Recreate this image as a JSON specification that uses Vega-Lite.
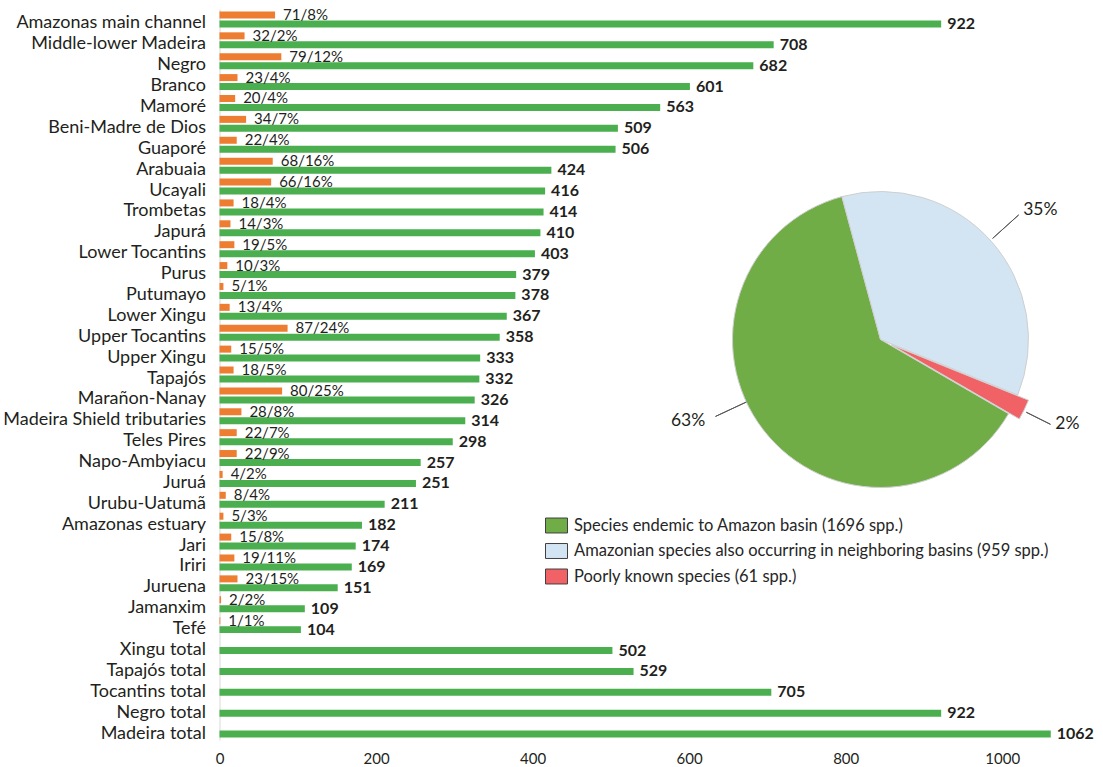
{
  "$schema": "https://vega.github.io/schema/vega-lite/v6.json",
  "width": 861,
  "height": 731,
  "autosize": "none",
  "padding": {"left": 219.5, "top": 9, "right": 22, "bottom": 27},
  "background": "white",
  "config": {"view": {"stroke": null}, "font": "Lato"},
  "resolve": {"scale": {"x": "independent", "y": "independent", "color": "independent"}},
  "layer": [
    {
      "data": {"values": [
        {"basin": "Amazonas main channel", "group": "Endemic", "value": 71, "label": "71/8%"},
        {"basin": "Amazonas main channel", "group": "Total", "value": 922, "label": "922"},
        {"basin": "Middle-lower Madeira", "group": "Endemic", "value": 32, "label": "32/2%"},
        {"basin": "Middle-lower Madeira", "group": "Total", "value": 708, "label": "708"},
        {"basin": "Negro", "group": "Endemic", "value": 79, "label": "79/12%"},
        {"basin": "Negro", "group": "Total", "value": 682, "label": "682"},
        {"basin": "Branco", "group": "Endemic", "value": 23, "label": "23/4%"},
        {"basin": "Branco", "group": "Total", "value": 601, "label": "601"},
        {"basin": "Mamoré", "group": "Endemic", "value": 20, "label": "20/4%"},
        {"basin": "Mamoré", "group": "Total", "value": 563, "label": "563"},
        {"basin": "Beni-Madre de Dios", "group": "Endemic", "value": 34, "label": "34/7%"},
        {"basin": "Beni-Madre de Dios", "group": "Total", "value": 509, "label": "509"},
        {"basin": "Guaporé", "group": "Endemic", "value": 22, "label": "22/4%"},
        {"basin": "Guaporé", "group": "Total", "value": 506, "label": "506"},
        {"basin": "Arabuaia", "group": "Endemic", "value": 68, "label": "68/16%"},
        {"basin": "Arabuaia", "group": "Total", "value": 424, "label": "424"},
        {"basin": "Ucayali", "group": "Endemic", "value": 66, "label": "66/16%"},
        {"basin": "Ucayali", "group": "Total", "value": 416, "label": "416"},
        {"basin": "Trombetas", "group": "Endemic", "value": 18, "label": "18/4%"},
        {"basin": "Trombetas", "group": "Total", "value": 414, "label": "414"},
        {"basin": "Japurá", "group": "Endemic", "value": 14, "label": "14/3%"},
        {"basin": "Japurá", "group": "Total", "value": 410, "label": "410"},
        {"basin": "Lower Tocantins", "group": "Endemic", "value": 19, "label": "19/5%"},
        {"basin": "Lower Tocantins", "group": "Total", "value": 403, "label": "403"},
        {"basin": "Purus", "group": "Endemic", "value": 10, "label": "10/3%"},
        {"basin": "Purus", "group": "Total", "value": 379, "label": "379"},
        {"basin": "Putumayo", "group": "Endemic", "value": 5, "label": "5/1%"},
        {"basin": "Putumayo", "group": "Total", "value": 378, "label": "378"},
        {"basin": "Lower Xingu", "group": "Endemic", "value": 13, "label": "13/4%"},
        {"basin": "Lower Xingu", "group": "Total", "value": 367, "label": "367"},
        {"basin": "Upper Tocantins", "group": "Endemic", "value": 87, "label": "87/24%"},
        {"basin": "Upper Tocantins", "group": "Total", "value": 358, "label": "358"},
        {"basin": "Upper Xingu", "group": "Endemic", "value": 15, "label": "15/5%"},
        {"basin": "Upper Xingu", "group": "Total", "value": 333, "label": "333"},
        {"basin": "Tapajós", "group": "Endemic", "value": 18, "label": "18/5%"},
        {"basin": "Tapajós", "group": "Total", "value": 332, "label": "332"},
        {"basin": "Marañon-Nanay", "group": "Endemic", "value": 80, "label": "80/25%"},
        {"basin": "Marañon-Nanay", "group": "Total", "value": 326, "label": "326"},
        {"basin": "Madeira Shield tributaries", "group": "Endemic", "value": 28, "label": "28/8%"},
        {"basin": "Madeira Shield tributaries", "group": "Total", "value": 314, "label": "314"},
        {"basin": "Teles Pires", "group": "Endemic", "value": 22, "label": "22/7%"},
        {"basin": "Teles Pires", "group": "Total", "value": 298, "label": "298"},
        {"basin": "Napo-Ambyiacu", "group": "Endemic", "value": 22, "label": "22/9%"},
        {"basin": "Napo-Ambyiacu", "group": "Total", "value": 257, "label": "257"},
        {"basin": "Juruá", "group": "Endemic", "value": 4, "label": "4/2%"},
        {"basin": "Juruá", "group": "Total", "value": 251, "label": "251"},
        {"basin": "Urubu-Uatumã", "group": "Endemic", "value": 8, "label": "8/4%"},
        {"basin": "Urubu-Uatumã", "group": "Total", "value": 211, "label": "211"},
        {"basin": "Amazonas estuary", "group": "Endemic", "value": 5, "label": "5/3%"},
        {"basin": "Amazonas estuary", "group": "Total", "value": 182, "label": "182"},
        {"basin": "Jari", "group": "Endemic", "value": 15, "label": "15/8%"},
        {"basin": "Jari", "group": "Total", "value": 174, "label": "174"},
        {"basin": "Iriri", "group": "Endemic", "value": 19, "label": "19/11%"},
        {"basin": "Iriri", "group": "Total", "value": 169, "label": "169"},
        {"basin": "Juruena", "group": "Endemic", "value": 23, "label": "23/15%"},
        {"basin": "Juruena", "group": "Total", "value": 151, "label": "151"},
        {"basin": "Jamanxim", "group": "Endemic", "value": 2, "label": "2/2%"},
        {"basin": "Jamanxim", "group": "Total", "value": 109, "label": "109"},
        {"basin": "Tefé", "group": "Endemic", "value": 1, "label": "1/1%"},
        {"basin": "Tefé", "group": "Total", "value": 104, "label": "104"},
        {"basin": "Xingu total", "group": "Total", "value": 502, "label": "502"},
        {"basin": "Tapajós total", "group": "Total", "value": 529, "label": "529"},
        {"basin": "Tocantins total", "group": "Total", "value": 705, "label": "705"},
        {"basin": "Negro total", "group": "Total", "value": 922, "label": "922"},
        {"basin": "Madeira total", "group": "Total", "value": 1062, "label": "1062"}
      ]},
      "encoding": {
        "y": {
          "field": "basin", "type": "nominal",
          "sort": ["Amazonas main channel", "Middle-lower Madeira", "Negro", "Branco", "Mamoré", "Beni-Madre de Dios", "Guaporé", "Arabuaia", "Ucayali", "Trombetas", "Japurá", "Lower Tocantins", "Purus", "Putumayo", "Lower Xingu", "Upper Tocantins", "Upper Xingu", "Tapajós", "Marañon-Nanay", "Madeira Shield tributaries", "Teles Pires", "Napo-Ambyiacu", "Juruá", "Urubu-Uatumã", "Amazonas estuary", "Jari", "Iriri", "Juruena", "Jamanxim", "Tefé", "Xingu total", "Tapajós total", "Tocantins total", "Negro total", "Madeira total"],
          "scale": {"paddingInner": 0, "paddingOuter": 0},
          "axis": {"title": null, "ticks": false, "domainColor": "#d9d9d9", "domainWidth": 1, "labelPadding": 14, "labelFontSize": 18, "labelFont": "Lato", "labelColor": "#231f20", "labelLimit": 0, "labelOffset": 4}
        },
        "yOffset": {"field": "group", "type": "nominal", "scale": {"domain": ["Endemic", "Total"], "paddingInner": 0.222, "paddingOuter": 0.272}},
        "x": {
          "field": "value", "type": "quantitative",
          "scale": {"domain": [0, 1100], "nice": false},
          "axis": {"title": null, "domain": false, "ticks": false, "grid": false, "values": [0, 200, 400, 600, 800, 1000], "format": "d", "labelFlush": false, "labelFontSize": 15, "labelFont": "Lato", "labelColor": "#231f20", "labelPadding": 11}
        }
      },
      "layer": [
        {
          "mark": {"type": "bar"},
          "encoding": {"color": {"field": "group", "type": "nominal", "scale": {"domain": ["Endemic", "Total"], "range": ["#ED7D31", "#4BAF4F"]}, "legend": null}}
        },
        {
          "transform": [{"filter": "datum.group === 'Endemic'"}],
          "mark": {"type": "text", "align": "left", "baseline": "middle", "dx": 8, "fontSize": 15, "font": "Lato", "color": "#231f20"},
          "encoding": {"text": {"field": "label", "type": "nominal"}}
        },
        {
          "transform": [{"filter": "datum.group === 'Total'"}],
          "mark": {"type": "text", "align": "left", "baseline": "middle", "dx": 6, "fontSize": 16, "fontWeight": "bold", "font": "Lato", "color": "#231f20"},
          "encoding": {"text": {"field": "label", "type": "nominal"}}
        }
      ]
    },
    {
      "data": {"values": [
        {"category": "Species endemic to Amazon basin (1696 spp.)", "count": 1696, "pct": "63%"},
        {"category": "Amazonian species also occurring in neighboring basins (959 spp.)", "count": 959, "pct": "35%"},
        {"category": "Poorly known species (61 spp.)", "count": 61, "pct": "2%"}
      ]},
      "transform": [{"stack": "count", "groupby": [], "sort": [{"field": "count", "order": "descending"}], "as": ["t0", "t1"]}],
      "encoding": {
        "x": {"datum": 0.7677, "type": "quantitative", "scale": {"domain": [0, 1], "nice": false, "zero": false}, "axis": null},
        "y": {"datum": 0.5479, "type": "quantitative", "scale": {"domain": [0, 1], "nice": false, "zero": false}, "axis": null},
        "theta": {"field": "t0", "type": "quantitative", "scale": {"domain": [0, 2716], "range": [2.096, 8.379]}}
      },
      "layer": [
        {
          "transform": [{"filter": "datum.count !== 61"}],
          "mark": {"type": "arc", "outerRadius": 148, "stroke": "#cfcfcf", "strokeWidth": 1},
          "encoding": {
            "theta2": {"field": "t1"},
            "color": {"field": "category", "type": "nominal",
              "scale": {"domain": ["Species endemic to Amazon basin (1696 spp.)", "Amazonian species also occurring in neighboring basins (959 spp.)", "Poorly known species (61 spp.)"], "range": ["#70AD47", "#D3E5F3", "#F06266"]},
              "legend": {"title": null, "orient": "none", "legendX": 325.5, "legendY": 505, "symbolType": "M-1,-0.68H1V0.68H-1Z", "symbolSize": 484, "symbolStrokeColor": "#404040", "symbolStrokeWidth": 1, "symbolFillOpacity": 1, "labelFontSize": 16.5, "labelFont": "Lato", "labelColor": "#262626", "labelOffset": 6, "rowPadding": 4.5, "padding": 0, "labelLimit": 0}}
          }
        },
        {
          "transform": [{"filter": "datum.count === 61"}],
          "mark": {"type": "arc", "outerRadius": 148, "stroke": "#cfcfcf", "strokeWidth": 1},
          "encoding": {
            "x": {"datum": 0.7802, "type": "quantitative"},
            "y": {"datum": 0.5407, "type": "quantitative"},
            "theta2": {"field": "t1"},
            "color": {"field": "category", "type": "nominal",
              "scale": {"domain": ["Species endemic to Amazon basin (1696 spp.)", "Amazonian species also occurring in neighboring basins (959 spp.)", "Poorly known species (61 spp.)"], "range": ["#70AD47", "#D3E5F3", "#F06266"]},
              "legend": {"title": null, "orient": "none", "legendX": 325.5, "legendY": 505, "symbolType": "M-1,-0.68H1V0.68H-1Z", "symbolSize": 484, "symbolStrokeColor": "#404040", "symbolStrokeWidth": 1, "symbolFillOpacity": 1, "labelFontSize": 16.5, "labelFont": "Lato", "labelColor": "#262626", "labelOffset": 6, "rowPadding": 4.5, "padding": 0, "labelLimit": 0}}
          }
        },
        {
          "transform": [{"filter": "datum.count === 959"}],
          "mark": {"type": "arc", "filled": false, "stroke": "#595959", "strokeWidth": 1, "innerRadius": 151, "outerRadius": 186, "thetaOffset": 1.101, "theta2Offset": 1.101},
          "encoding": {"theta2": {"field": "t0"}}
        },
        {
          "transform": [{"filter": "datum.count === 61"}],
          "mark": {"type": "arc", "filled": false, "stroke": "#595959", "strokeWidth": 1, "innerRadius": 163, "outerRadius": 190, "thetaOffset": 0.079, "theta2Offset": 0.079},
          "encoding": {"theta2": {"field": "t0"}}
        },
        {
          "transform": [{"filter": "datum.count === 1696"}],
          "mark": {"type": "arc", "filled": false, "stroke": "#595959", "strokeWidth": 1, "innerRadius": 148, "outerRadius": 182, "thetaOffset": 2.18, "theta2Offset": 2.18},
          "encoding": {"theta2": {"field": "t0"}}
        },
        {
          "transform": [{"filter": "datum.count === 959"}],
          "mark": {"type": "text", "radius": 206, "thetaOffset": 1.152, "fontSize": 17.5, "font": "Lato", "color": "#231f20", "align": "center", "baseline": "middle"},
          "encoding": {"text": {"field": "pct", "type": "nominal"}}
        },
        {
          "transform": [{"filter": "datum.count === 61"}],
          "mark": {"type": "text", "radius": 205, "thetaOffset": 0.04, "fontSize": 17.5, "font": "Lato", "color": "#231f20", "align": "center", "baseline": "middle"},
          "encoding": {"text": {"field": "pct", "type": "nominal"}}
        },
        {
          "transform": [{"filter": "datum.count === 1696"}],
          "mark": {"type": "text", "radius": 209, "thetaOffset": 2.215, "fontSize": 17.5, "font": "Lato", "color": "#231f20", "align": "center", "baseline": "middle"},
          "encoding": {"text": {"field": "pct", "type": "nominal"}}
        }
      ]
    }
  ]
}
